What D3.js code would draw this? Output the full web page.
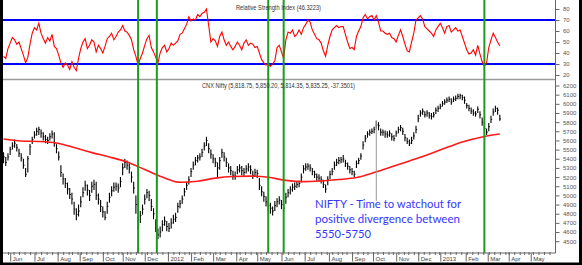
<!DOCTYPE html>
<html><head><meta charset="utf-8">
<script src="https://cdn.jsdelivr.net/npm/d3@7"></script>
<style>body{margin:0;background:#fff}svg{display:block}</style>
</head><body>
<svg id="c" width="582" height="265"></svg>
<script>
// ---------- data ----------
const startDate = "2011-05-23", endDate = "2013-05-31";
const holidays = ["2011-08-15","2011-08-19","2011-08-31","2011-09-01","2011-10-06","2011-10-26","2011-10-27",
  "2011-11-07","2011-11-10","2011-12-06","2012-01-26","2012-02-20","2012-03-08","2012-04-05","2012-04-06",
  "2012-05-01","2012-08-15","2012-08-20","2012-09-19","2012-10-02","2012-10-24","2012-11-14","2012-11-28",
  "2012-12-25","2013-03-27","2013-03-29","2013-04-19","2013-04-24","2013-05-01"];
const barStep = 2; // one bar every two trading sessions
const priceClose = [5420,5360,5420,5500,5540,5570,5520,5460,5410,5330,
 5230,5400,5530,5610,5660,5700,5720,5680,5640,5610,
 5600,5640,5670,5570,5510,5420,5250,5180,5130,5070,
 5010,4960,4850,4790,4830,4930,5030,5110,5060,5000,
 5100,5120,5000,4960,4880,4820,4760,4880,4980,5050,
 5090,5100,5080,5150,5300,5360,5330,5300,5200,5080,
 4900,4680,4780,4850,4960,5030,5000,4880,4800,4650,
 4570,4600,4680,4720,4660,4640,4700,4740,4760,4880,
 4910,4960,5040,5110,5170,5260,5330,5380,5410,5420,
 5470,5540,5600,5510,5450,5400,5360,5300,5380,5470,
 5420,5360,5300,5270,5220,5210,5280,5300,5270,5250,
 5290,5310,5280,5220,5250,5240,5110,5040,4990,4930,
 4890,4860,4830,4890,4930,4950,4900,4860,4980,5030,
 5060,5090,5100,5120,5130,5200,5290,5310,5320,5300,
 5260,5230,5200,5190,5170,5120,5070,5170,5230,5260,
 5330,5360,5380,5390,5400,5350,5320,5280,5260,5230,
 5350,5380,5430,5550,5620,5670,5690,5700,5720,5770,
 5760,5690,5690,5670,5660,5680,5640,5620,5680,5720,
 5740,5700,5630,5590,5570,5600,5650,5720,5840,5900,
 5920,5880,5900,5870,5860,5880,5930,5950,5970,6000,
 6020,6040,6050,6020,6050,6060,6080,6090,6070,6040,
 5980,5950,5920,5900,5890,5940,5880,5800,5730,5690,
 5750,5830,5910,5950,5930,5835];
const priceHigh = [5470,5420,5460,5530,5580,5610,5560,5510,5460,5400,
 5300,5430,5560,5640,5700,5740,5750,5720,5690,5660,
 5640,5680,5710,5690,5560,5480,5330,5240,5190,5140,
 5080,5030,4930,4860,4900,4990,5090,5160,5120,5060,
 5150,5170,5150,5020,4950,4880,4830,4930,5030,5100,
 5140,5140,5130,5200,5350,5400,5380,5350,5260,5150,
 5000,4760,4830,4900,5010,5070,5050,4960,4860,4740,
 4640,4660,4730,4770,4720,4700,4750,4790,4810,4920,
 4950,5000,5080,5150,5210,5300,5370,5420,5440,5460,
 5510,5580,5640,5570,5500,5450,5410,5360,5420,5510,
 5470,5410,5350,5320,5270,5260,5320,5340,5320,5300,
 5330,5350,5330,5270,5290,5280,5190,5100,5040,4990,
 4940,4920,4880,4940,4970,4990,4950,4910,5030,5070,
 5100,5130,5140,5150,5160,5240,5330,5350,5350,5340,
 5300,5270,5240,5230,5210,5170,5120,5210,5270,5300,
 5370,5400,5420,5420,5440,5390,5360,5320,5300,5270,
 5380,5410,5460,5590,5660,5700,5720,5730,5750,5815,
 5800,5730,5720,5710,5700,5710,5680,5660,5710,5750,
 5770,5740,5670,5630,5610,5640,5690,5760,5880,5930,
 5950,5920,5930,5910,5900,5910,5960,5980,6000,6030,
 6050,6070,6080,6060,6080,6090,6110,6110,6100,6080,
 6010,5990,5960,5940,5920,5970,5920,5850,5790,5730,
 5790,5870,5950,5980,5960,5880];
const priceLow = [5350,5320,5380,5440,5500,5520,5480,5420,5370,5290,
 5200,5250,5440,5560,5620,5650,5660,5630,5600,5570,
 5560,5600,5620,5530,5460,5380,5200,5120,5080,5010,
 4960,4900,4790,4730,4770,4870,4980,5050,5000,4940,
 5030,5060,4950,4900,4820,4760,4730,4800,4920,4990,
 5040,5050,5030,5090,5220,5300,5280,5240,5140,5020,
 4800,4630,4700,4790,4900,4970,4940,4830,4740,4600,
 4520,4540,4610,4670,4610,4600,4640,4690,4710,4810,
 4860,4910,4990,5060,5120,5200,5280,5330,5360,5380,
 5420,5490,5540,5460,5400,5350,5310,5200,5280,5410,
 5370,5310,5250,5220,5170,5170,5230,5250,5220,5200,
 5240,5260,5230,5180,5200,5190,5060,4990,4930,4880,
 4830,4800,4780,4830,4870,4900,4850,4810,4910,4980,
 5010,5040,5060,5080,5090,5140,5240,5270,5280,5260,
 5220,5190,5160,5150,5130,5080,5030,5110,5180,5220,
 5280,5320,5340,5350,5360,5310,5280,5240,5220,5200,
 5300,5340,5390,5500,5580,5630,5650,5670,5680,5730,
 5710,5650,5650,5630,5630,5640,5600,5590,5640,5680,
 5700,5660,5590,5560,5540,5560,5610,5680,5800,5860,
 5880,5850,5860,5840,5830,5850,5890,5910,5940,5970,
 5990,6010,6020,5990,6020,6030,6050,6050,6040,6000,
 5950,5920,5890,5870,5860,5900,5840,5760,5690,5660,
 5700,5790,5870,5910,5880,5814];
const rsiValues = [37,35,44,49,54,52,48,50,44,38,
 31,36,48,58,63,61,67,58,53,49,
 54,51,57,46,44,38,31,27,31,29,
 25,32,27,24,35,44,50,53,44,47,
 52,50,41,47,44,40,46,53,55,58,
 52,55,59,61,65,60,59,56,52,43,
 37,29,35,40,47,53,56,45,41,36,
 31,40,45,47,41,44,49,47,49,51,
 57,58,62,66,73,69,71,70,75,73,
 76,77,80,65,50,53,51,46,55,59,
 52,47,50,46,43,46,50,47,43,49,
 52,47,49,48,45,46,40,34,31,29,
 30,28,30,33,45,47,41,35,52,59,
 58,61,55,57,61,57,63,66,70,68,
 61,57,53,52,49,42,37,47,55,61,
 63,65,63,64,64,57,50,44,45,43,
 55,60,64,72,75,71,73,74,70,74,
 68,60,60,58,57,58,54,53,50,56,
 61,55,48,42,41,50,58,70,72,74,
 71,64,62,60,58,55,61,64,67,63,
 58,64,65,59,61,63,60,61,55,49,
 43,39,40,43,38,47,39,32,28,31,
 45,52,58,54,50,46.3223];
const maStep = 16; // moving average sampled every 16 sessions (last = final session)
const maValues = [5615,5594,5589,5572,5523,5467,5420,5365,5282,5200,5143,5155,5189,5206,5210,
 5198,5164,5150,5158,5173,5195,5249,5312,5376,5440,5515,5584,5633,5667,5670];
const divergenceDates = ["2011-11-22","2011-12-16","2012-05-15","2012-06-04","2013-02-25"];
const rsiBands = [30, 70];
const rsiTicks = [20,30,40,50,60,70,80];
const priceTicks = [4500,4600,4700,4800,4900,5000,5100,5200,5300,5400,5500,5600,5700,5800,5900,6000,6100,6200];
const lastBar = {open:"5,818.75", high:"5,850.20", low:"5,814.35", close:"5,835.25", change:"-37.3501"};
const rsiLast = "46.3223";
const noteLines = ["NIFTY - Time to watchout for","positive divergence between","5550-5750"];
const noteLeader = {date:"2012-10-04", from:5815, to:4940};

// ---------- layout ----------
const svg = d3.select("#c");
const L = 3, R = 555.5, axisY = 253;
const parse = d3.utcParse("%Y-%m-%d"), fmt = d3.utcFormat("%Y-%m-%d");
const hol = new Set(holidays);
const days = d3.utcDays(parse(startDate), d3.utcDay.offset(parse(endDate), 1))
  .filter(d => d.getUTCDay() % 6 !== 0 && !hol.has(fmt(d)));
const keys = days.map(fmt);
const x = d3.scaleBand().domain(keys).range([L, R]).paddingInner(0).paddingOuter(0);
const bw = x.bandwidth();
const cx = k => x(k) + bw / 2;
const yR = d3.scaleLinear().domain([20, 80]).range([75, 9]);
const yP = d3.scaleLinear().domain([4500, 6200]).range([241.2, 85.5]);
const barKey = i => keys[i * barStep];

svg.append("rect").attr("width", 582).attr("height", 265).attr("fill", "#fff");

// separator between panels
svg.append("line").attr("x1", L).attr("x2", R).attr("y1", 79.5).attr("y2", 79.5)
  .attr("stroke", "#9a9a9a").attr("stroke-width", 1.5);

// RSI bands
svg.selectAll(".band").data(rsiBands).join("line")
  .attr("x1", L).attr("x2", R).attr("y1", d => yR(d)).attr("y2", d => yR(d))
  .attr("stroke", "#0000ff").attr("stroke-width", 2);

// RSI line
svg.append("path").datum(rsiValues)
  .attr("d", d3.line().x((d, i) => cx(barKey(i))).y(d => yR(d)))
  .attr("fill", "none").attr("stroke", "#ff0000").attr("stroke-width", 1.1);

// price bars (high-low with close tick)
const bars = svg.append("g").attr("stroke", "#000");
bars.selectAll("line.hl").data(priceClose).join("line").attr("class", "hl")
  .attr("x1", (d, i) => cx(barKey(i))).attr("x2", (d, i) => cx(barKey(i)))
  .attr("y1", (d, i) => yP(priceHigh[i])).attr("y2", (d, i) => yP(priceLow[i]))
  .attr("stroke-width", 1.1);
bars.selectAll("line.cl").data(priceClose).join("line").attr("class", "cl")
  .attr("x1", (d, i) => cx(barKey(i))).attr("x2", (d, i) => cx(barKey(i)) + 1.2)
  .attr("y1", d => yP(d)).attr("y2", d => yP(d)).attr("stroke-width", 0.9);

// moving average
const lastIdx = (priceClose.length - 1) * barStep;
svg.append("path").datum(maValues)
  .attr("d", d3.line().curve(d3.curveMonotoneX)
    .x((d, i) => cx(keys[Math.min(i * maStep, lastIdx)])).y(d => yP(d)))
  .attr("fill", "none").attr("stroke", "#ff1a1a").attr("stroke-width", 1.6);

// annotation leader line
svg.append("line").attr("x1", cx(noteLeader.date)).attr("x2", cx(noteLeader.date))
  .attr("y1", yP(noteLeader.from)).attr("y2", yP(noteLeader.to))
  .attr("stroke", "#9a9a9a").attr("stroke-width", 1);

// green divergence markers
svg.selectAll(".div").data(divergenceDates).join("line")
  .attr("x1", d => cx(d)).attr("x2", d => cx(d)).attr("y1", 0).attr("y2", axisY)
  .attr("stroke", "#1e9a1e").attr("stroke-width", 2);

// titles
svg.append("text").attr("x", 278.5).attr("y", 10).attr("text-anchor", "middle")
  .attr("font-family", "Liberation Sans, Arial, sans-serif").attr("font-size", 6.3).attr("fill", "#333")
  .attr("textLength", 85).attr("lengthAdjust", "spacingAndGlyphs")
  .text(`Relative Strength Index (${rsiLast})`);
svg.append("text").attr("x", 278.5).attr("y", 87.5).attr("text-anchor", "middle")
  .attr("font-family", "Liberation Sans, Arial, sans-serif").attr("font-size", 6.3).attr("fill", "#333")
  .attr("textLength", 153).attr("lengthAdjust", "spacingAndGlyphs")
  .text(`CNX Nifty (${lastBar.open}, ${lastBar.high}, ${lastBar.low}, ${lastBar.close}, ${lastBar.change})`);

// annotation text
const noteW = [146, 145, 56];
svg.selectAll(".note").data(noteLines).join("text")
  .attr("x", 315).attr("y", (d, i) => 207.7 + i * 15.3)
  .attr("font-family", "Lato, 'Open Sans', sans-serif").attr("font-size", 11.5).attr("fill", "#3535ff")
  .attr("textLength", (d, i) => noteW[i]).attr("lengthAdjust", "spacingAndGlyphs")
  .text(d => d);

// right axis
svg.append("line").attr("x1", R).attr("x2", R).attr("y1", 0).attr("y2", axisY)
  .attr("stroke", "#666").attr("stroke-width", 1);
function rightAxis(scale, major, minor) {
  const g = svg.append("g").attr("transform", `translate(${R},0)`);
  g.call(d3.axisRight(scale).tickValues(minor).tickSize(2).tickFormat(""));
  g.call(d3.axisRight(scale).tickValues(major).tickSize(4).tickPadding(3.5).tickFormat(d3.format("d")));
  g.selectAll(".domain").remove();
  g.selectAll("line").attr("stroke", "#666");
  g.selectAll("text").attr("font-family", "Liberation Sans, Arial, sans-serif")
    .attr("font-size", 6).attr("fill", "#555");
}
rightAxis(yR, rsiTicks, d3.range(20, 90, 5));
rightAxis(yP, priceTicks, d3.range(4450, 6260, 50));

// bottom axis
svg.append("line").attr("x1", L).attr("x2", R).attr("y1", axisY).attr("y2", axisY)
  .attr("stroke", "#666");
const monthStarts = keys.filter((k, i) => i > 0 && k.slice(0, 7) !== keys[i - 1].slice(0, 7));
const weekStarts = keys.filter((k, i) => i > 0 && parse(k).getUTCDay() < parse(keys[i - 1]).getUTCDay());
svg.selectAll(".wk").data(weekStarts).join("line")
  .attr("x1", d => x(d)).attr("x2", d => x(d)).attr("y1", axisY - 1).attr("y2", axisY + 2)
  .attr("stroke", "#666");
svg.selectAll(".mo").data(monthStarts).join("line")
  .attr("x1", d => x(d)).attr("x2", d => x(d)).attr("y1", axisY).attr("y2", 261.5)
  .attr("stroke", "#666");
svg.selectAll(".mol").data(monthStarts).join("text")
  .attr("x", d => x(d) + 2).attr("y", 260.5)
  .attr("font-family", "Liberation Sans, Arial, sans-serif").attr("font-size", 6).attr("fill", "#444")
  .text(d => d.slice(5, 7) === "01" ? d.slice(0, 4) : d3.utcFormat("%b")(parse(d)));

// black frame edges
svg.append("rect").attr("x", 0).attr("y", 0).attr("width", 3).attr("height", 265).attr("fill", "#000");
svg.append("rect").attr("x", 579).attr("y", 0).attr("width", 3).attr("height", 265).attr("fill", "#000");
svg.append("rect").attr("x", 0).attr("y", 262.5).attr("width", 582).attr("height", 3).attr("fill", "#000");
</script>
</body></html>
